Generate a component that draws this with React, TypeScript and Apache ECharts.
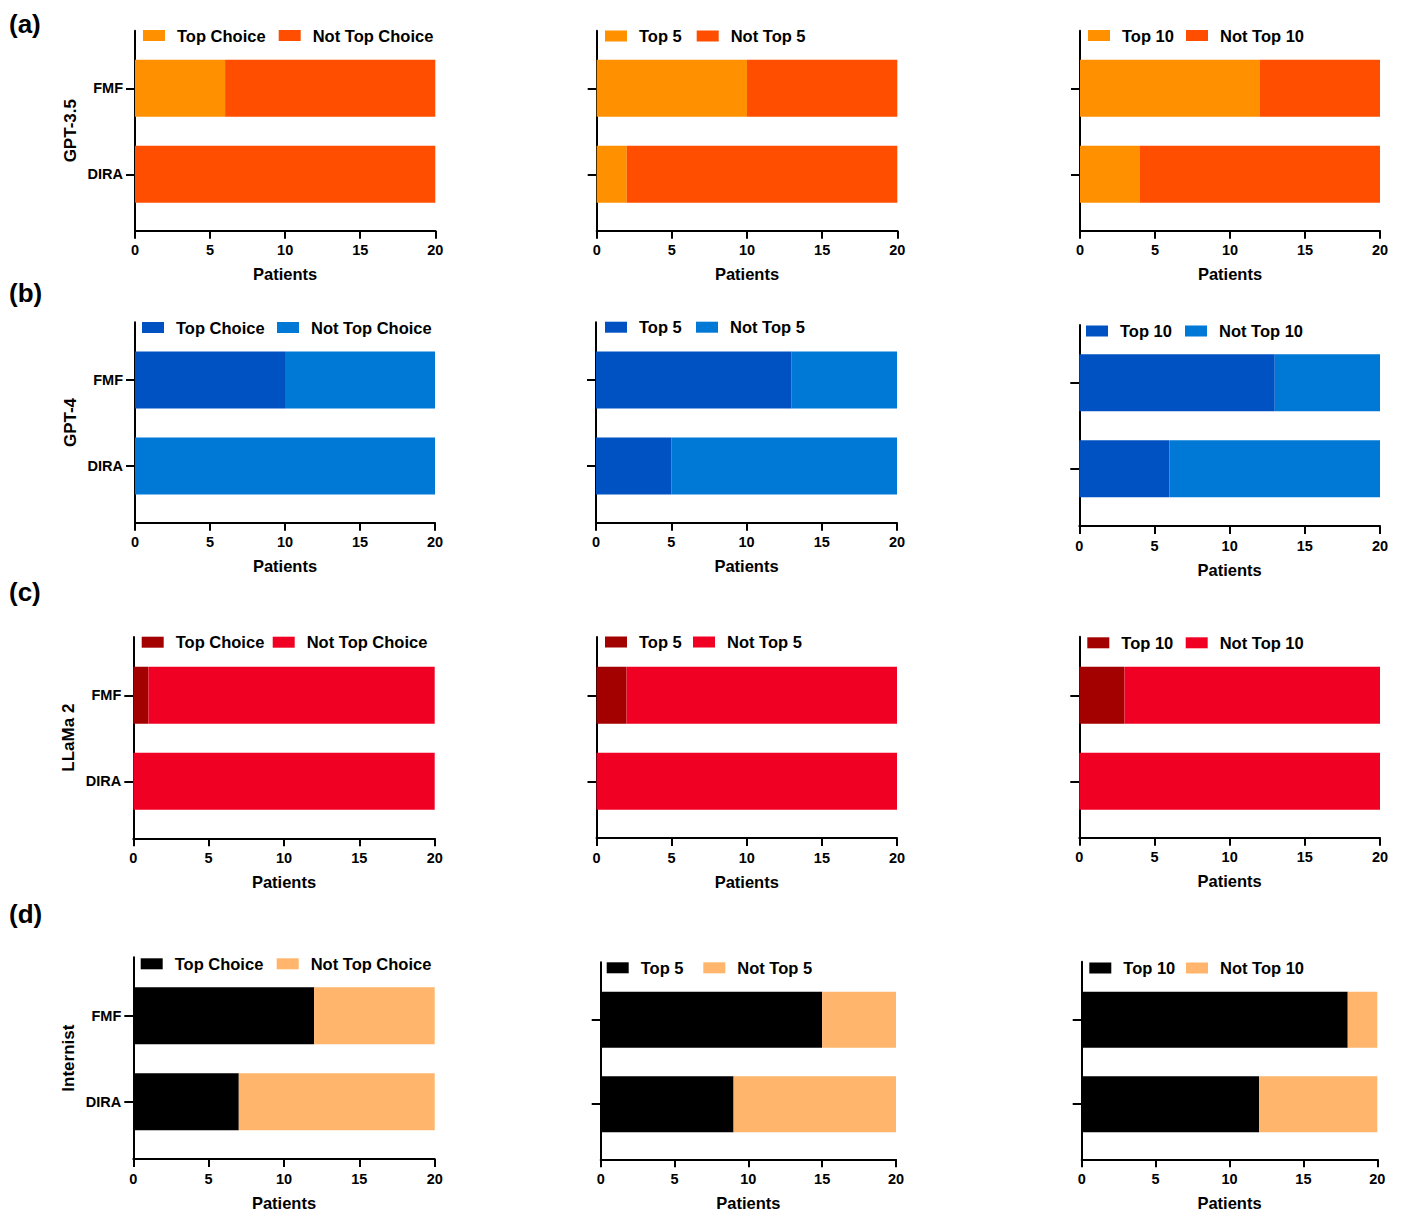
import React, { useEffect, useRef } from 'react';
import * as echarts from 'echarts';

// ---------- data ----------
const categories = ['DIRA', 'FMF']; // bottom to top
const models = ['GPT-3.5', 'GPT-4', 'LLaMa 2', 'Internist'];
const panelLetters = ['(a)', '(b)', '(c)', '(d)'];
const hitLabels = ['Top Choice', 'Top 5', 'Top 10'];
const missLabels = ['Not Top Choice', 'Not Top 5', 'Not Top 10'];
const xMin = 0;
const xMax = 20;
const xStep = 5;
const xTitle = 'Patients';

// each entry: [DIRA, FMF] for Top Choice, Top 5, Top 10
const gpt35Hit = [[0, 6], [2, 10], [4, 12]];
const gpt35Miss = [[20, 14], [18, 10], [16, 8]];
const gpt4Hit = [[0, 10], [5, 13], [6, 13]];
const gpt4Miss = [[20, 10], [15, 7], [14, 7]];
const llamaHit = [[0, 1], [0, 2], [0, 3]];
const llamaMiss = [[20, 19], [20, 18], [20, 17]];
const internistHit = [[7, 12], [9, 15], [12, 18]];
const internistMiss = [[13, 8], [11, 5], [8, 2]];

const hitData = [gpt35Hit, gpt4Hit, llamaHit, internistHit];
const missData = [gpt35Miss, gpt4Miss, llamaMiss, internistMiss];

// ---------- style / layout ----------
const rowColors = [
  ['#FF9100', '#FF4E00'],
  ['#0052C2', '#0078D6'],
  ['#A30000', '#F00022'],
  ['#000000', '#FFB56B'],
];
const FONT = '"Liberation Sans", Arial, Helvetica, sans-serif';
const letterCenters = [24, 293, 592, 914];

// [left, right, outerTop, outerBottom, fmfCenter, diraCenter, barWidth, leg1X, legY, leg2X]
const geom = [
  [135, 435.3, 30.7, 230.7, 88.3, 174.3, 57, 143, 35.5, 278.7],
  [596.7, 897.3, 30.7, 230.7, 88.3, 174.3, 57, 605, 36, 696.7],
  [1080, 1380, 30.7, 230.7, 88.3, 174.3, 57, 1088, 35.5, 1186],
  [135, 435, 322.3, 522.7, 380, 466, 57, 142, 327.5, 277],
  [596, 897, 322.3, 522.7, 380, 466, 57, 605, 327.2, 696],
  [1079.3, 1380, 325, 526, 382.7, 468.8, 57, 1086, 331, 1185],
  [133.3, 434.7, 637, 838.3, 695.3, 781.3, 57, 141.7, 642.2, 272.7],
  [596.5, 897, 637, 838, 695.3, 781.3, 57, 605, 642, 693],
  [1079.3, 1380, 636.7, 837.7, 695.3, 781.3, 57, 1087.3, 642.8, 1185.7],
  [133.3, 434.7, 957.3, 1159, 1015.8, 1101.7, 57, 140.7, 963.8, 276.7],
  [600.7, 896, 962.3, 1159.3, 1019.7, 1104.2, 56, 606.7, 967.8, 703.3],
  [1081.7, 1377.3, 961.7, 1159.3, 1019.7, 1104.2, 56, 1089.3, 968, 1186],
];

function buildOption() {
  const grid: any[] = [];
  const xAxis: any[] = [];
  const yAxis: any[] = [];
  const series: any[] = [];
  const legend: any[] = [];
  const title: any[] = [];

  const legendText = {
    fontFamily: FONT,
    fontSize: 16.5,
    fontWeight: 'bold',
    color: '#000',
    lineHeight: 18,
    padding: [0, 0, 0, 7],
  };

  for (let r = 0; r < 4; r++) {
    title.push({
      text: panelLetters[r],
      left: 9,
      top: letterCenters[r] - 15,
      padding: 0,
      textStyle: { fontFamily: FONT, fontSize: 26, fontWeight: 'bold', color: '#000', lineHeight: 30 },
    });
    for (let c = 0; c < 3; c++) {
      const p = r * 3 + c;
      const [L, R, oT, oB, fC, dC, bw, l1x, ly, l2x] = geom[p];
      const s = dC - fC;
      const outer = 2 * p;
      const inner = 2 * p + 1;
      grid.push({ left: L, top: oT, width: R - L, height: oB - oT, outerBoundsMode: 'none', containLabel: false });
      grid.push({ left: L, top: fC - s / 2, width: R - L, height: 2 * s, outerBoundsMode: 'none', containLabel: false });

      xAxis.push({
        gridIndex: outer,
        type: 'value',
        min: xMin,
        max: xMax,
        interval: xStep,
        axisLine: { show: true, onZero: false, lineStyle: { color: '#000', width: 2 } },
        axisTick: { show: true, length: 8, lineStyle: { color: '#000', width: 2 } },
        axisLabel: { fontFamily: FONT, fontSize: 14.5, fontWeight: 'bold', color: '#000', margin: 12 },
        splitLine: { show: false },
        name: xTitle,
        nameLocation: 'middle',
        nameGap: 35,
        nameTextStyle: { fontFamily: FONT, fontSize: 16.5, fontWeight: 'bold', color: '#000' },
      });
      xAxis.push({ gridIndex: inner, type: 'value', min: xMin, max: xMax, show: false });

      yAxis.push({
        gridIndex: outer,
        type: 'value',
        min: 0,
        max: 1,
        axisLine: { show: true, onZero: false, lineStyle: { color: '#000', width: 2 } },
        axisTick: { show: false },
        axisLabel: { show: false },
        splitLine: { show: false },
        name: c === 0 ? models[r] : '',
        nameLocation: 'middle',
        nameRotate: 90,
        nameGap: 56,
        nameTextStyle: { fontFamily: FONT, fontSize: 17, fontWeight: 'bold', color: '#000' },
      });
      yAxis.push({
        gridIndex: inner,
        type: 'category',
        data: categories,
        axisLine: { show: false },
        axisTick: { show: true, alignWithLabel: true, length: 9, lineStyle: { color: '#000', width: 2 } },
        axisLabel: { show: c === 0, fontFamily: FONT, fontSize: 14.5, fontWeight: 'bold', color: '#000', margin: 12 },
        splitLine: { show: false },
      });

      const hitName = `${p}|${hitLabels[c]}`;
      const missName = `${p}|${missLabels[c]}`;
      series.push({
        type: 'bar',
        name: hitName,
        xAxisIndex: inner,
        yAxisIndex: inner,
        stack: `s${p}`,
        barWidth: bw,
        itemStyle: { color: rowColors[r][0] },
        data: hitData[r][c],
      });
      series.push({
        type: 'bar',
        name: missName,
        xAxisIndex: inner,
        yAxisIndex: inner,
        stack: `s${p}`,
        barWidth: bw,
        itemStyle: { color: rowColors[r][1] },
        data: missData[r][c],
      });

      const fmt = (n: string) => n.split('|')[1];
      legend.push({
        data: [hitName], left: l1x, top: ly - 9, padding: 0, icon: 'rect', itemWidth: 22, itemHeight: 11,
        selectedMode: false, formatter: fmt, textStyle: legendText,
      });
      legend.push({
        data: [missName], left: l2x, top: ly - 9, padding: 0, icon: 'rect', itemWidth: 22, itemHeight: 11,
        selectedMode: false, formatter: fmt, textStyle: legendText,
      });
    }
  }

  return { animation: false, backgroundColor: '#fff', title, grid, xAxis, yAxis, series, legend };
}

export default function App() {
  const ref = useRef<HTMLDivElement>(null);
  useEffect(() => {
    if (!ref.current) return;
    const chart = echarts.init(ref.current, undefined, { renderer: 'svg' });
    chart.setOption(buildOption() as any);
    return () => chart.dispose();
  }, []);
  return (
    <div
      ref={ref}
      style={{ position: 'absolute', left: 0, top: 0, width: 1402, height: 1211, background: '#fff' }}
    />
  );
}
